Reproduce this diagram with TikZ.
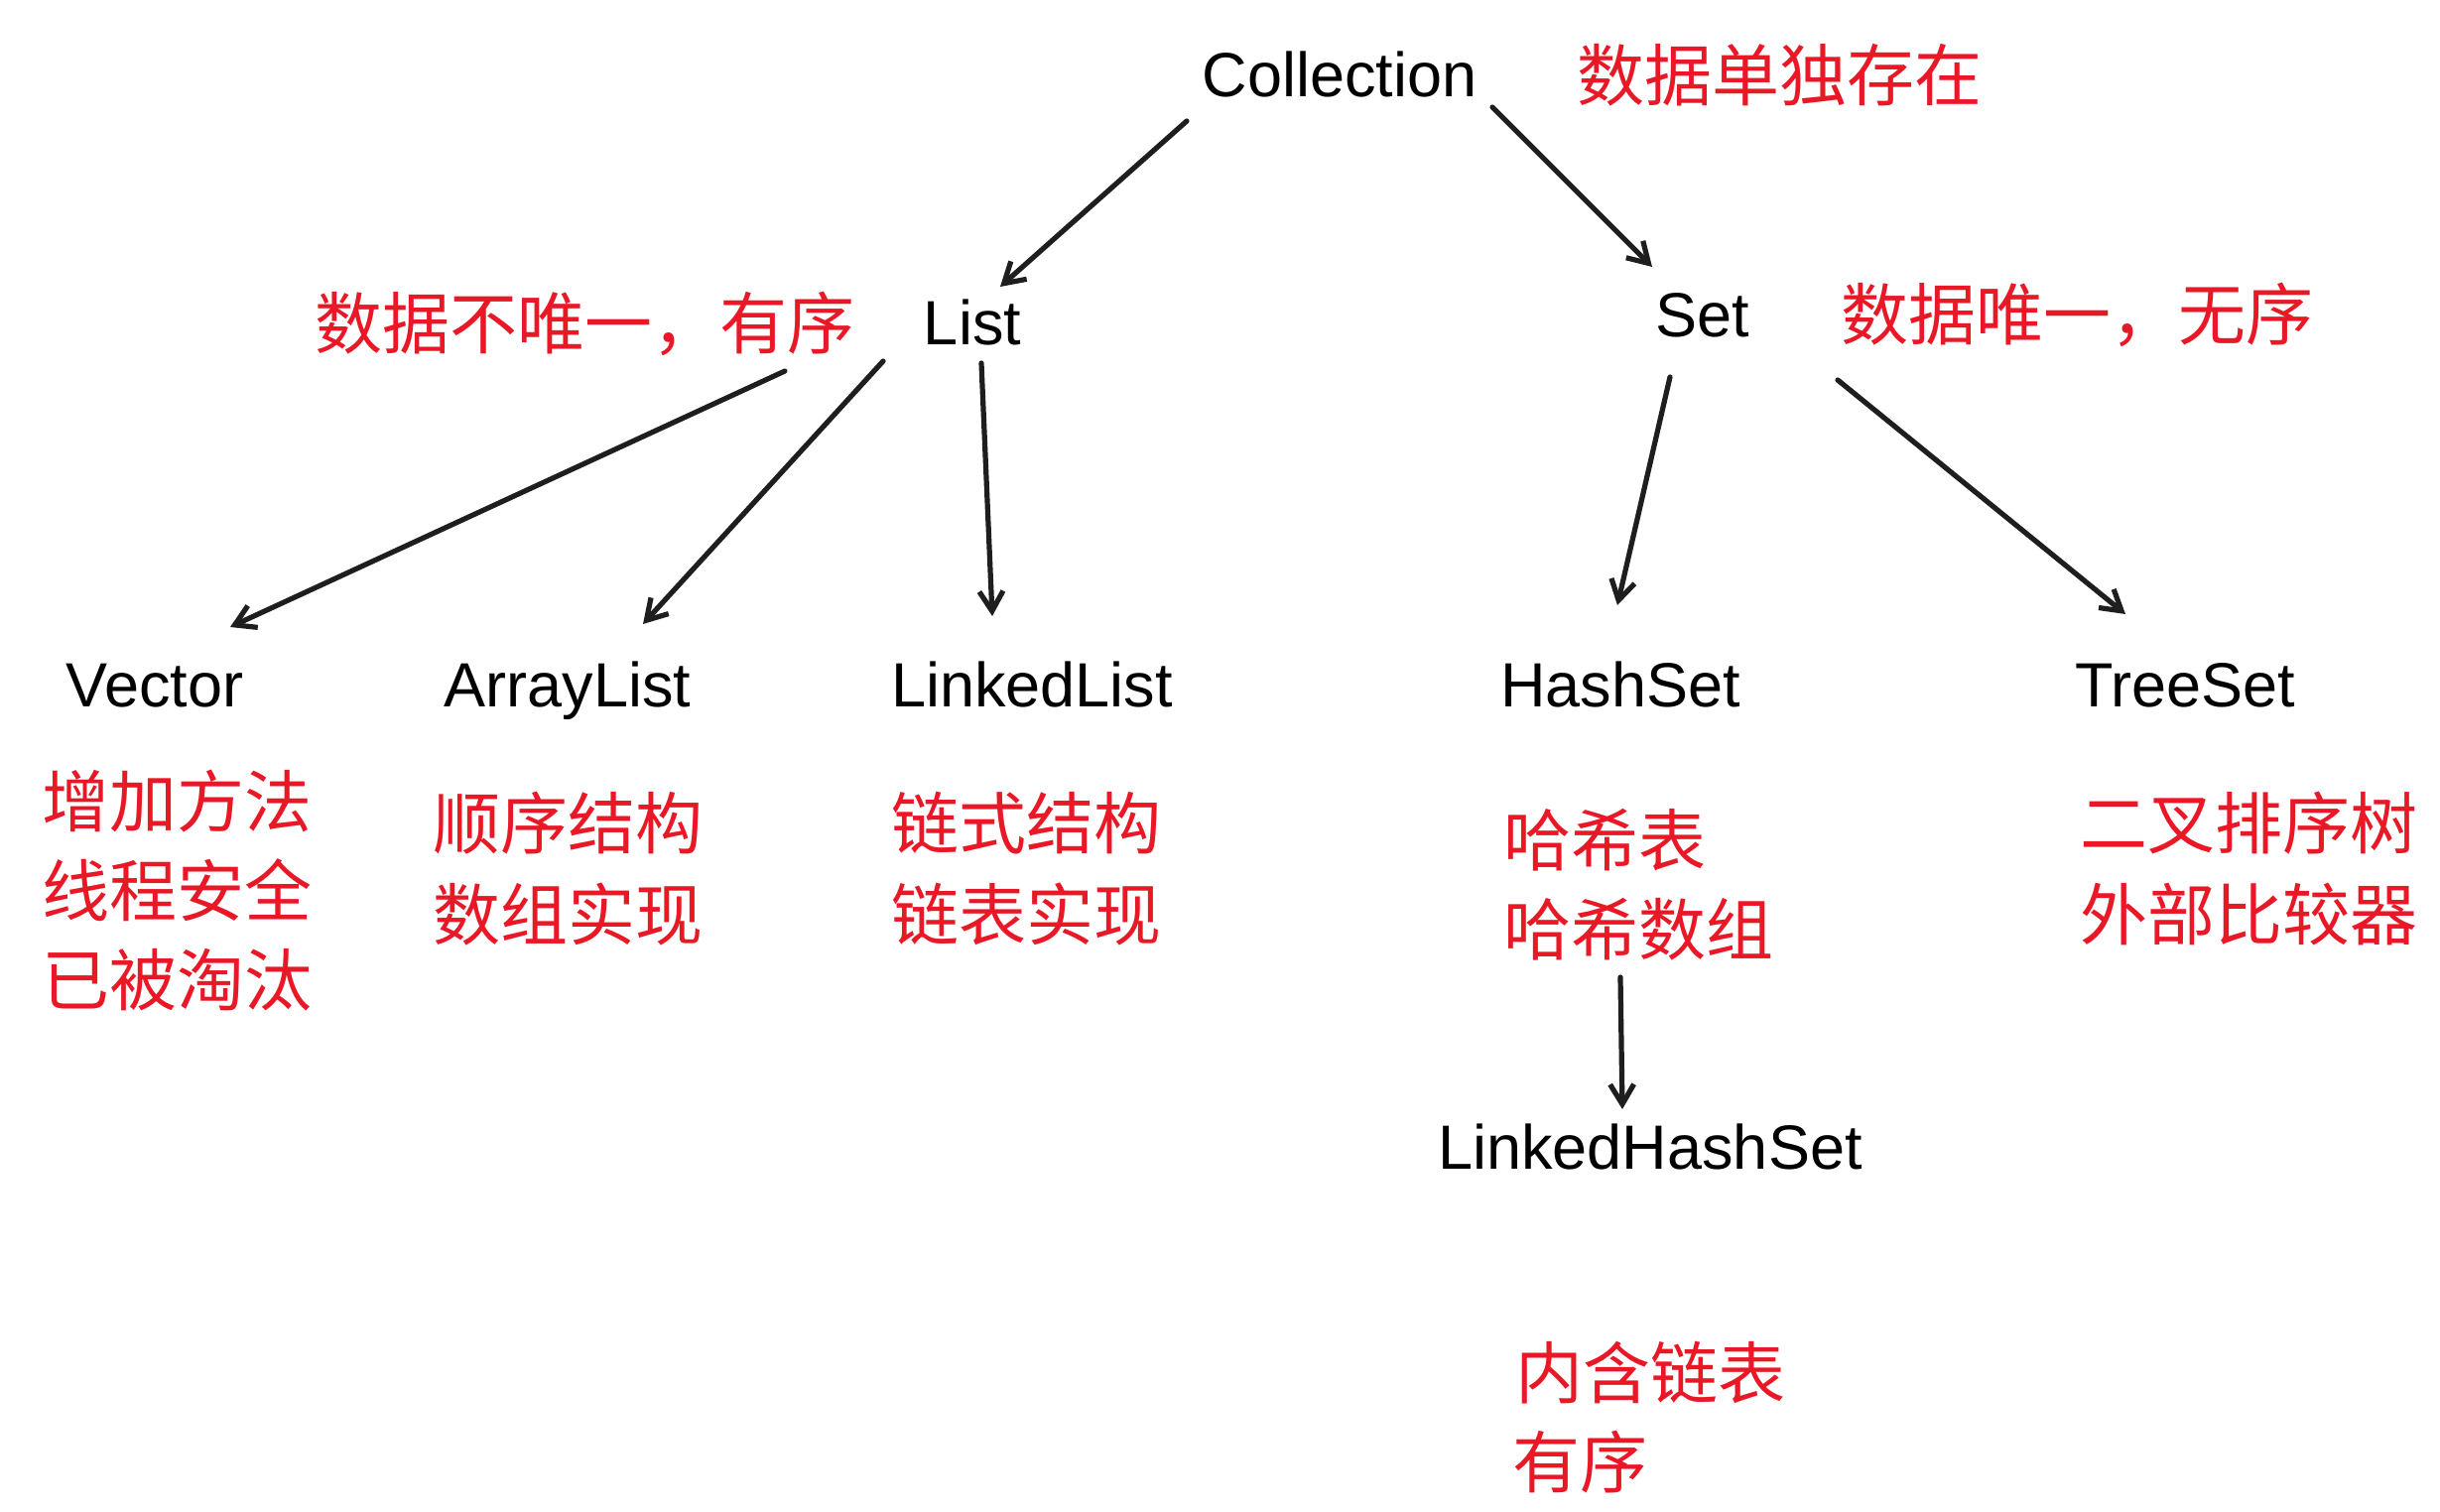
\documentclass[tikz,border=0pt]{standalone}
\usepackage{fontspec}
\setmainfont{Liberation Sans}
\newfontfamily\cjk{Noto Sans CJK SC}
\usetikzlibrary{arrows.meta}
\definecolor{redtxt}{RGB}{233,24,38}
\definecolor{inkc}{RGB}{30,30,30}
\begin{document}
\begin{tikzpicture}[x=0.5pt,y=-0.5pt,
  lat/.style={inner sep=0pt, anchor=base, font=\fontsize{31.5}{36}\selectfont, text=black},
  note/.style={inner sep=0pt, anchor=base west, font=\cjk\fontsize{34}{40}\selectfont, text=redtxt},
  arr/.style={draw=inkc, line width=2.6pt, line cap=round, -{Straight Barb[length=10pt,width=12pt,line width=2.6pt]}}]
\useasboundingbox (0,0) rectangle (2459,1524);
\fill[white] (0,0) rectangle (2459,1524);

% class names
\node[lat] (coll) at (1350,98) {Collection};
\node[lat] (list) at (980,348) {List};
\node[lat] (set) at (1716,340) {Set};
\node[lat] (vec) at (156,712) {Vector};
\node[lat] (alist) at (572,712) {ArrayList};
\node[lat] (llist) at (1040,712) {LinkedList};
\node[lat] (hset) at (1633,712) {HashSet};
\node[lat] (tset) at (2202,712) {TreeSet};
\node[lat] (lhset) at (1663,1178) {LinkedHashSet};

% notes
\node[note] (n-coll) at (1589,102) {数据单独存在};
\node[note] (n-list) at (317,352) {数据不唯一，有序};
\node[note] (n-set) at (1855,343) {数据唯一，无序};
\node[note] (n-vec1) at (42,833) {增加方法};
\node[note] (n-vec2) at (42,923) {线程安全};
\node[note] (n-vec3) at (42,1013) {已被淘汰};
\node[note] (n-al1) at (436,855) {顺序结构};
\node[note] (n-al2) at (436,947) {数组实现};
\node[note] (n-ll1) at (898,855) {链式结构};
\node[note] (n-ll2) at (898,947) {链表实现};
\node[note] (n-hs1) at (1515,872) {哈希表};
\node[note] (n-hs2) at (1515,962) {哈希数组};
\node[note] (n-ts1) at (2096,855) {二叉排序树};
\node[note] (n-ts2) at (2096,947) {外部比较器};
\node[note] (n-lh1) at (1527,1409) {内含链表};
\node[note] (n-lh2) at (1524,1499) {有序};

% connectors
\draw[arr] ([shift={(-154,24)}]coll.base) -- ([shift={(28,-59)}]list.base);
\draw[arr] ([shift={(154,10)}]coll.base) -- ([shift={(-51,-71)}]set.base);
\draw[arr] ([shift={(-189,26)}]list.base) -- ([shift={(76,-80)}]vec.base);
\draw[arr] ([shift={(-90,16)}]list.base) -- ([shift={(76,-83)}]alist.base);
\draw[arr] ([shift={(9,18)}]list.base) -- ([shift={(-40,-91)}]llist.base);
\draw[arr] ([shift={(-33,40)}]set.base) -- ([shift={(-3,-102)}]hset.base);
\draw[arr] ([shift={(136,43)}]set.base) -- ([shift={(-60,-93)}]tset.base);
\draw[arr] ([shift={(118,23)}]n-hs2.base west) -- ([shift={(-28,-60)}]lhset.base);
\end{tikzpicture}
\end{document}
